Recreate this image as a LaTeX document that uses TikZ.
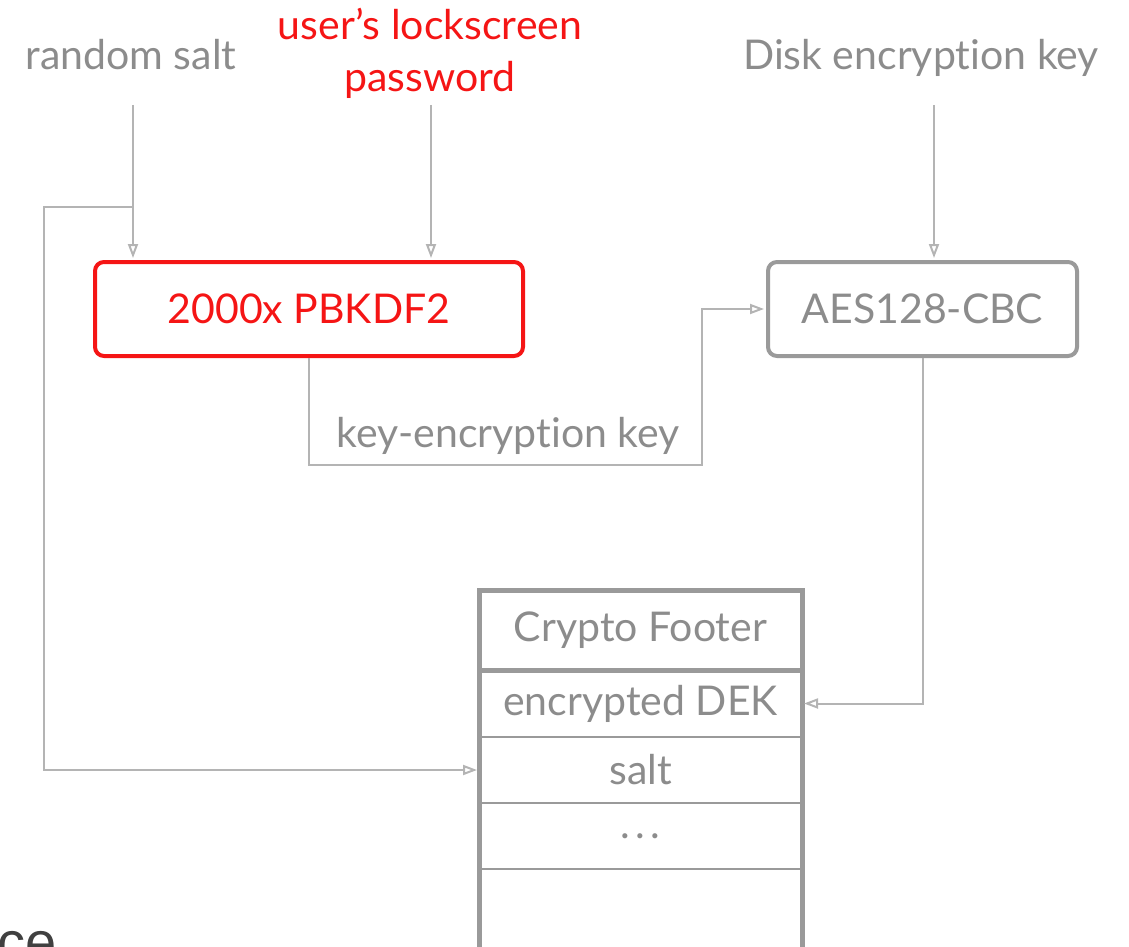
\documentclass[tikz,border=0pt]{standalone}
\usepackage{fontspec}
\setmainfont{Lato}[Ligatures=NoCommon]
\newfontfamily\cefont{Liberation Sans}
\usetikzlibrary{arrows.meta,positioning}
\definecolor{txtgray}{HTML}{8C8C8C}
\definecolor{boxgray}{HTML}{9A9A9A}
\definecolor{linegray}{HTML}{B4B4B4}
\definecolor{keyred}{HTML}{F51515}

\begin{document}
\begin{tikzpicture}[x=1pt,y=-1pt,shorten >=2pt,>={Triangle[open,length=14pt,width=10pt]},
	lbl/.style={font=\fontsize{41}{52}\selectfont,text=txtgray,inner sep=0pt},
	arr/.style={draw=linegray,line width=2pt},
	main box/.style={rounded corners=9pt,line width=4pt,minimum height=94pt,font=\fontsize{41}{48}\selectfont,text=txtgray},
	row/.style={draw=boxgray,line width=2pt,minimum width=323pt,outer sep=0pt,inner sep=0pt,font=\fontsize{41}{48}\selectfont,text=txtgray}]
	
	\clip (0,0) rectangle (1129,947);
	
	\node[lbl,anchor=base] (salt) at (131,70) {random salt};
	\node[lbl,anchor=center,align=center,text=keyred] (pwd) at (430,53) {user’s lockscreen\\password};
	\node[lbl,anchor=base] (disk) at (921,70) {Disk encryption key};
	
	\node[main box,draw=keyred,text=keyred,minimum width=428pt] (kdf) at (309,309) {2000x PBKDF2};
	\node[main box,draw=boxgray,minimum width=309pt] (aes) at (922.5,309) {AES128-CBC};
	
	\node[row,minimum height=80pt] (r0) at (640.5,630) {Crypto Footer};
	\node[row,minimum height=67pt] (r1) [below=0pt of r0] {encrypted DEK};
	\node[row,minimum height=66pt] (r2) [below=0pt of r1] {salt};
	\node[row,minimum height=66pt] (r3) [below=0pt of r2] {.\hspace{5pt}.\hspace{5pt}.};
	\node[row,minimum height=91pt] (r4) [below=0pt of r3] {};
	\draw[boxgray,line width=5pt] (r0.north west) rectangle (r4.south east);
	\draw[boxgray,line width=5pt] (r0.south west) -- (r0.south east);
	
	\coordinate (s0) at (133,105);
	\coordinate (s1) at (133,207);
	\coordinate (p0) at (431,105);
	\coordinate (d0) at (934,105);
	
	\draw[arr,->] (s0) -- (s0 |- kdf.north);
	\draw[arr,->] (s1) -- (44,207) |- (r2.west);
	\draw[arr,->] (p0) -- (p0 |- kdf.north);
	\draw[arr,->] (d0) -- (d0 |- aes.north);
	\draw[arr,->] (kdf.south) |- (702,465) |- (aes.west);
	\draw[arr,->] (aes.south) |- (r1.east);
	
	\node[lbl,anchor=base] (kek) at (508,447) {key-encryption key};
	
	\node[font=\cefont\fontsize{56}{60}\selectfont,text=black!75,anchor=base west,inner sep=0pt] (ce) at (-3,961) {ce};
\end{tikzpicture}
\end{document}
